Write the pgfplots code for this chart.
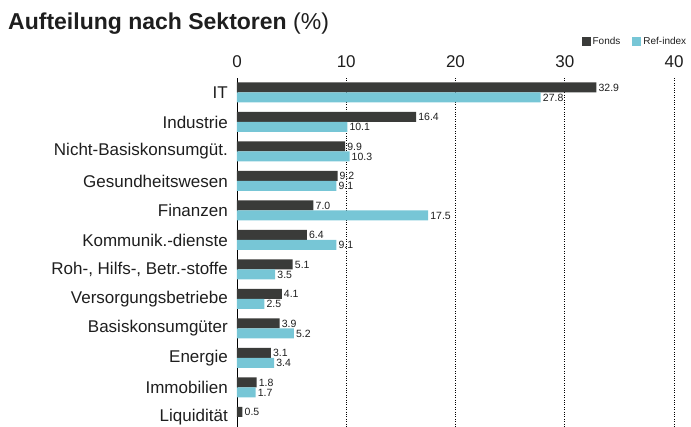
\documentclass[border=0pt]{standalone}
\usepackage{pgfplots}
\pgfplotsset{compat=1.18}
\usepackage{fontspec}
\setmainfont{Liberation Sans}
\definecolor{fonds}{HTML}{3A3B39}
\definecolor{refx}{HTML}{77C6D6}
\definecolor{txt}{HTML}{1E1E1E}
\begin{document}
\begin{tikzpicture}[x=1pt,y=1pt]
\path[use as bounding box] (0,0) rectangle (691,-427);
\node[anchor=base west, inner sep=0pt, text=txt] at (8,-30) {\fontsize{23}{27}\selectfont\bfseries Aufteilung nach Sektoren \mdseries(\%)};
\begin{axis}[
  at={(237pt,-78pt)}, anchor=north west,
  scale only axis, width=437pt, height=349pt,
  xbar, bar width=10pt,
  xmin=0, xmax=40,
  ymin=-0.49, ymax=11.34, y dir=reverse,
  axis y line*=left,
  axis x line*=top,
  x axis line style={draw=none},
  y axis line style={line width=0.9pt, black},
  xtick={0,10,20,30,40},
  xticklabel pos=upper,
  xmajorgrids, grid style={dotted, line width=0.8pt, black},
  major tick length=0pt,
  tick style={draw=none},
  ytick={0,...,11},
  yticklabels={IT,Industrie,Nicht-Basiskonsumgüt.,Gesundheitswesen,Finanzen,Kommunik.-dienste,{Roh-, Hilfs-, Betr.-stoffe},Versorgungsbetriebe,Basiskonsumgüter,Energie,Immobilien,Liquidität},
  tick label style={font=\fontsize{17}{20}\selectfont, text=txt, inner sep=0pt},
  x tick label style={yshift=10.5pt},
  y tick label style={xshift=-9pt},
  /pgf/number format/assume math mode=true,
  nodes near coords={\pgfmathprintnumber[fixed,fixed zerofill,precision=1]{\pgfplotspointmeta}},
  nodes near coords style={font=\fontsize{10.5}{12}\selectfont, text=txt, anchor=west, inner sep=2pt},
  point meta=x,
  clip=false,
  legend style={at={(rel axis cs:1.033,1.105)}, anchor=east, draw=none, fill=none, font=\fontsize{10}{12}\selectfont, text=txt, /tikz/every even column/.append style={column sep=10pt}, inner sep=0pt},
  legend columns=2,
  legend image code/.code={\fill (0pt,-4.5pt) rectangle (9pt,4.5pt);},
]
\addplot[fill=fonds, draw=none, bar shift=5pt] coordinates {
(32.9,0) (16.4,1) (9.9,2) (9.2,3) (7.0,4) (6.4,5) (5.1,6) (4.1,7) (3.9,8) (3.1,9) (1.8,10) (0.5,11)};
\addplot[fill=refx, draw=none, bar shift=-5pt] coordinates {
(27.8,0) (10.1,1) (10.3,2) (9.1,3) (17.5,4) (9.1,5) (3.5,6) (2.5,7) (5.2,8) (3.4,9) (1.7,10)};
\legend{Fonds,Ref-index}
\end{axis}
\end{tikzpicture}
\end{document}
